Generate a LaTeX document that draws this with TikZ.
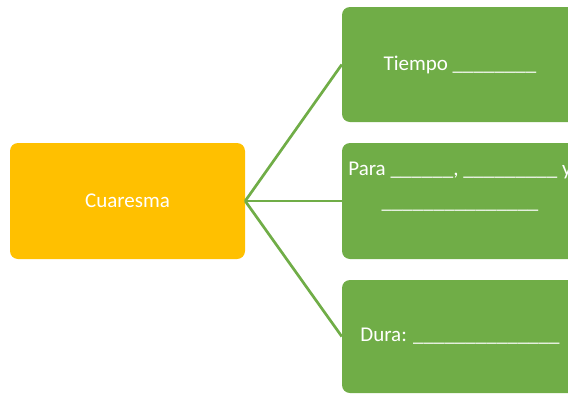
\documentclass[tikz,border=0pt]{standalone}
\usepackage{fontspec}
\setmainfont{Carlito}
\definecolor{cgreen}{RGB}{112,173,71}
\definecolor{cyellow}{RGB}{255,192,0}
\tikzset{
  box/.style={rectangle, rounded corners=8pt, minimum width=235pt, draw=none, inner sep=0pt},
  txt/.style={text=white, font=\fontsize{21}{25}\selectfont, inner sep=0pt, align=center},
  conn/.style={draw=cgreen, line width=2.7pt},
}
\begin{document}
\begin{tikzpicture}[x=1pt,y=-1pt]
\useasboundingbox (0,0) rectangle (568,394);
\clip (0,0) rectangle (568,394);
\node[box, fill=cyellow, minimum height=116pt] (c) at (127.5,201) {};
\node[box, fill=cgreen, minimum width=236pt, minimum height=115pt] (g1) at (460,64.5) {};
\node[box, fill=cgreen, minimum width=236pt, minimum height=116pt] (g2) at (460,201) {};
\node[box, fill=cgreen, minimum width=236pt, minimum height=113pt] (g3) at (460,336.5) {};
\node[txt] (tc) at (c.center) {Cuaresma};
\node[txt] (t1) at (g1.center) {Tiempo \_\_\_\_\_\_\_\_};
\node[txt, anchor=base] (t2a) at (460,175) {Para \_\_\_\_\_\_, \_\_\_\_\_\_\_\_\_ y};
\node[txt, anchor=base] (t2b) at (460,208) {\_\_\_\_\_\_\_\_\_\_\_\_\_\_\_};
\node[txt] (t3) at (g3.center) {Dura: \_\_\_\_\_\_\_\_\_\_\_\_\_\_};
\draw[conn] (c.east) -- (g1.west);
\draw[conn] (c.east) -- (g2.west);
\draw[conn] (c.east) -- (g3.west);
\end{tikzpicture}
\end{document}
